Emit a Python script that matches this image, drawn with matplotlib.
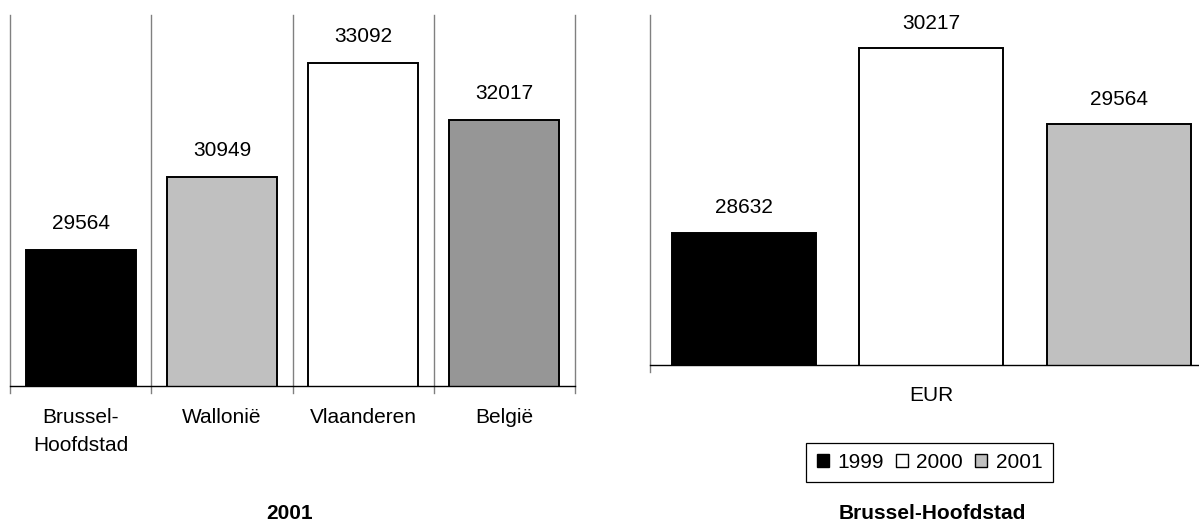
import matplotlib.pyplot as plt
from matplotlib.patches import Patch

plt.rcParams['font.family'] = ['Liberation Sans', 'DejaVu Sans']

# income per inhabitant, 2001, by region
regions = ['Brussel-\nHoofdstad', 'Wallonië', 'Vlaanderen', 'België']
region_values = [29564, 30949, 33092, 32017]
region_colors = ['#000000', '#c0c0c0', '#ffffff', '#969696']

# Brussels over the years
years = ['1999', '2000', '2001']
brussels_values = [28632, 30217, 29564]
year_colors = ['#000000', '#ffffff', '#c0c0c0']

W, H = 1199, 522
fig = plt.figure(figsize=(W / 100, H / 100), dpi=100)

def box(x0, y0, x1, y1):
    # pixel box (top-left origin) -> figure fraction rect
    return [x0 / W, 1 - y1 / H, (x1 - x0) / W, (y1 - y0) / H]

grid_col = '#808080'

# --- left chart: the regions in 2001 ---
ax1 = fig.add_axes(box(10, 15, 575, 386))
xs = range(len(regions))
ax1.bar(xs, region_values, width=0.78, color=region_colors,
        edgecolor='black', linewidth=1.4)
ax1.set_xlim(-0.5, len(regions) - 0.5)
ax1.set_ylim(27000, 34000)
for v in [i - 0.5 for i in range(len(regions) + 1)]:
    ax1.axvline(v, ymin=-7 / 371, ymax=1, color=grid_col, lw=1.0,
                clip_on=False, zorder=0)
for x, v in zip(xs, region_values):
    ax1.annotate(str(v), (x, v), xytext=(0, 15), textcoords='offset points',
                 ha='center', va='baseline', fontsize=15)
ax1.set_xticks(list(xs))
ax1.set_xticklabels(regions, fontsize=15, linespacing=1.6)
ax1.tick_params(axis='x', length=0, pad=16)
ax1.set_yticks([])
for s in ['top', 'left', 'right']:
    ax1.spines[s].set_visible(False)
ax1.spines['bottom'].set_linewidth(1.0)

# --- right chart: Brussel-Hoofdstad per year ---
ax2 = fig.add_axes(box(650, 15, 650 + 3 * 187.5, 365))
xs2 = range(len(years))
ax2.bar(xs2, brussels_values, width=0.77, color=year_colors,
        edgecolor='black', linewidth=1.4)
ax2.set_xlim(-0.5, 2.5)
ax2.set_ylim(27500, 30500)
ax2.axvline(-0.5, ymin=-7 / 350, ymax=1, color=grid_col, lw=1.0,
            clip_on=False, zorder=0)
for x, v in zip(xs2, brussels_values):
    ax2.annotate(str(v), (x, v), xytext=(0, 14), textcoords='offset points',
                 ha='center', va='baseline', fontsize=15)
ax2.set_xticks([])
ax2.set_yticks([])
for s in ['top', 'left', 'right']:
    ax2.spines[s].set_visible(False)
ax2.spines['bottom'].set_linewidth(1.0)
ax2.set_xlabel('EUR', fontsize=15, labelpad=15)

handles = [Patch(facecolor=c, edgecolor='black', linewidth=1.0) for c in year_colors]
leg = fig.legend(handles, years, loc='center', ncol=3,
                 bbox_to_anchor=(929.5 / W, 1 - 462.5 / H), fontsize=15,
                 handlelength=0.6, handleheight=0.6, handletextpad=0.4,
                 columnspacing=0.55, borderpad=0.5, borderaxespad=0,
                 fancybox=False, framealpha=1, edgecolor='black')
leg.get_frame().set_linewidth(0.9)

fig.text(290 / W, 1 - 519 / H, '2001', ha='center', va='baseline',
         fontsize=15, fontweight='bold')
fig.text(932 / W, 1 - 519 / H, 'Brussel-Hoofdstad', ha='center',
         va='baseline', fontsize=15, fontweight='bold')

fig.savefig('out.png', dpi=100)
